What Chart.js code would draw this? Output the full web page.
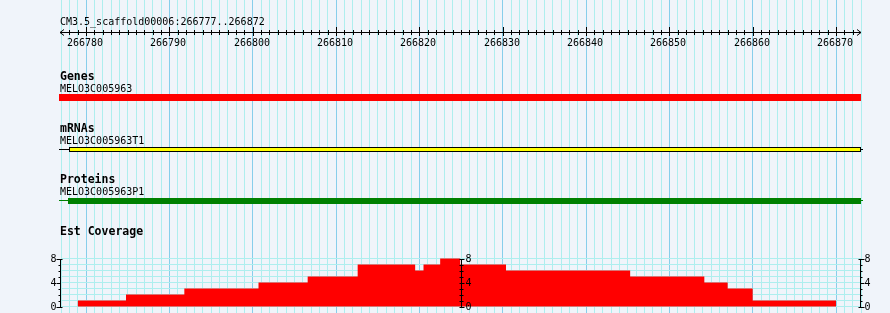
<!DOCTYPE html>
<html>
<head>
<meta charset="utf-8">
<script src="https://cdn.jsdelivr.net/npm/chart.js@4/dist/chart.umd.min.js"></script>
<style>
  html, body { margin: 0; padding: 0; background: #F0F4FA; }
  canvas { display: block; }
</style>
</head>
<body>
<canvas id="c" width="890" height="313"></canvas>
<script>
// ---- data ----
const regionTitle = "CM3.5_scaffold00006:266777..266872";
const viewStart = 266777;
const viewEnd = 266873;
const rulerLabels = [266780, 266790, 266800, 266810, 266820, 266830, 266840, 266850, 266860, 266870];

const trackTitles = ["Genes", "mRNAs", "Proteins", "Est Coverage"];
const featureNames = ["MELO3C005963", "MELO3C005963T1", "MELO3C005963P1"];
const featureStarts = [266760, 266778, 266777.8];   // gene continues left of view
const featureEnds = [266890, 266873, 266873];

// EST coverage: depth holds from each start to the next one
const coverageStarts = [266779, 266784.8, 266791.8, 266800.7, 266806.6, 266812.6, 266819.5, 266820.5, 266822.5, 266824.9, 266830.4, 266845.3, 266854.2, 266857.0, 266860.0, 266870.0];
const coverageDepth  = [1, 2, 3, 4, 5, 7, 6, 7, 8, 7, 6, 5, 4, 3, 1, 0];
const coverageTicks = [0, 4, 8];
const coverageMax = 8;

// ---- styles ----
const BG = '#F0F4FA';
const GRID = '#AEEEEE';
const GRID_MAJOR = '#87CEEB';
const MONO = '"DejaVu Sans Mono", "Liberation Mono", monospace';

const covPoints = coverageStarts.map((x, i) => ({ x: x, y: coverageDepth[i] }));

// y scale: 6 px per unit, 0 at y=306.5 inside a 313px tall area
const PX_PER_UNIT = 6;
const yMin = -(313 - 306.5) / PX_PER_UNIT;
const yMax = yMin + 313 / PX_PER_UNIT;

const overlay = {
  id: 'overlay',
  afterDatasetsDraw(chart) {
    const ctx = chart.ctx;
    const xs = chart.scales.x;
    const ys = chart.scales.y;
    const area = chart.chartArea;
    const px = v => xs.getPixelForValue(v);
    const clampX = v => Math.max(area.left - 2, Math.min(area.right, px(v)));
    ctx.save();
    ctx.fillStyle = '#000';
    ctx.textBaseline = 'alphabetic';

    // ---- title + ruler ----
    ctx.font = '10px ' + MONO;
    ctx.textAlign = 'left';
    ctx.fillText(regionTitle, 60, 25);
    const ry = 32.5;
    const rl = area.left - 1, rr = area.right;
    ctx.strokeStyle = '#000';
    ctx.lineWidth = 1;
    ctx.beginPath();
    ctx.moveTo(rl, ry); ctx.lineTo(rr, ry);
    // arrows
    ctx.moveTo(rl + 4, ry - 3); ctx.lineTo(rl, ry); ctx.lineTo(rl + 4, ry + 3);
    ctx.moveTo(rr - 4, ry - 3); ctx.lineTo(rr, ry); ctx.lineTo(rr - 4, ry + 3);
    for (let b = viewStart + 1; b < viewEnd; b++) {
      const x = Math.round(px(b)) + 0.5;
      if (b % 10 === 0) { ctx.moveTo(x, 27); ctx.lineTo(x, 36); }
      else { ctx.moveTo(x, 30); ctx.lineTo(x, 35); }
    }
    ctx.stroke();
    ctx.textAlign = 'center';
    rulerLabels.forEach(v => ctx.fillText(String(v), Math.round(px(v)) - 1, 46));

    // ---- track labels ----
    const titleY = [80, 132, 183, 235];
    const nameY = [92, 144, 195];
    ctx.textAlign = 'left';
    ctx.font = 'bold 11.5px ' + MONO;
    trackTitles.forEach((t, i) => ctx.fillText(t, 60, titleY[i]));
    ctx.font = '10px ' + MONO;
    featureNames.forEach((t, i) => ctx.fillText(t, 60, nameY[i]));

    // ---- gene ----
    ctx.fillStyle = '#FF0000';
    {
      const x0 = clampX(featureStarts[0]), x1 = clampX(featureEnds[0]);
      ctx.fillRect(Math.round(x0), 94, Math.round(x1) - Math.round(x0), 7);
    }
    // ---- mRNA ----
    {
      const x0 = Math.round(clampX(featureStarts[1])), x1 = Math.round(clampX(featureEnds[1]));
      ctx.strokeStyle = '#000';
      ctx.beginPath();
      ctx.moveTo(area.left - 2, 149.5); ctx.lineTo(x0, 149.5);
      ctx.moveTo(x1, 149.5); ctx.lineTo(x1 + 2, 149.5);
      ctx.stroke();
      ctx.fillStyle = '#FFFF00';
      ctx.fillRect(x0, 147, x1 - x0, 5);
      ctx.strokeRect(x0 + 0.5, 147.5, x1 - x0 - 1, 4);
    }
    // ---- protein ----
    {
      const x0 = Math.round(clampX(featureStarts[2])), x1 = Math.round(clampX(featureEnds[2]));
      ctx.strokeStyle = '#008000';
      ctx.beginPath();
      ctx.moveTo(area.left - 2, 200.5); ctx.lineTo(x0, 200.5);
      ctx.moveTo(x1, 200.5); ctx.lineTo(x1 + 2, 200.5);
      ctx.stroke();
      ctx.fillStyle = '#008000';
      ctx.fillRect(x0, 198, x1 - x0, 6);
    }

    // ---- coverage axes ----
    ctx.strokeStyle = '#000';
    ctx.fillStyle = '#000';
    ctx.font = '10px ' + MONO;
    const yTop = Math.round(ys.getPixelForValue(coverageMax)) + 0.5;
    const yBot = Math.round(ys.getPixelForValue(0)) + 0.5;
    const axes = [
      { x: area.left - 1 + 0.5, side: 'left' },
      { x: Math.round(px((viewStart + viewEnd) / 2)) + 0.5, side: 'mid' },
      { x: Math.round(area.right) - 0.5, side: 'right' }
    ];
    axes.forEach(a => {
      ctx.beginPath();
      ctx.moveTo(a.x, yTop); ctx.lineTo(a.x, yBot);
      for (let v = 0; v <= coverageMax; v++) {
        const y = Math.round(ys.getPixelForValue(v)) + 0.5;
        const major = coverageTicks.includes(v);
        if (a.side === 'left') {
          ctx.moveTo(a.x - (major ? 4 : 2), y); ctx.lineTo(a.x + (v === 0 || v === coverageMax ? 2 : 0), y);
        } else if (a.side === 'mid') {
          ctx.moveTo(a.x - 2, y); ctx.lineTo(a.x + (major ? 3 : 2), y);
        } else {
          ctx.moveTo(a.x - (v === 0 || v === coverageMax ? 2 : 0), y); ctx.lineTo(a.x + (major ? 4 : 2), y);
        }
      }
      ctx.stroke();
      coverageTicks.forEach(v => {
        const y = ys.getPixelForValue(v) + 3.5;
        if (a.side === 'left') { ctx.textAlign = 'right'; ctx.fillText(String(v), a.x - 4, y); }
        else { ctx.textAlign = 'left'; ctx.fillText(String(v), a.x + 4, y); }
      });
    });
    ctx.restore();
  }
};

new Chart(document.getElementById('c'), {
  type: 'line',
  data: {
    datasets: [{
      label: 'Est Coverage',
      data: covPoints,
      stepped: 'before',
      fill: 'origin',
      backgroundColor: '#FF0000',
      borderColor: 'rgba(0,0,0,0)',
      borderWidth: 0,
      pointRadius: 0,
      tension: 0
    }]
  },
  options: {
    responsive: false,
    animation: false,
    devicePixelRatio: 1,
    events: [],
    layout: { padding: { left: 61, right: 29, top: 0, bottom: 0 } },
    plugins: { legend: { display: false }, tooltip: { enabled: false } },
    scales: {
      x: {
        type: 'linear',
        min: viewStart,
        max: viewEnd,
        ticks: { display: false, stepSize: 1 },
        border: { display: false },
        grid: {
          drawTicks: false,
          color: c => (c.tick && Math.round(c.tick.value) % 10 === 0) ? GRID_MAJOR : GRID
        }
      },
      y: {
        type: 'linear',
        min: yMin,
        max: yMax,
        ticks: { display: false, stepSize: 1, includeBounds: false },
        border: { display: false },
        grid: {
          drawTicks: false,
          color: c => {
            const v = c.tick ? c.tick.value : NaN;
            return (Number.isInteger(v) && v >= 0 && v <= coverageMax) ? GRID : 'rgba(0,0,0,0)';
          }
        }
      }
    }
  },
  plugins: [overlay]
});
</script>
</body>
</html>
